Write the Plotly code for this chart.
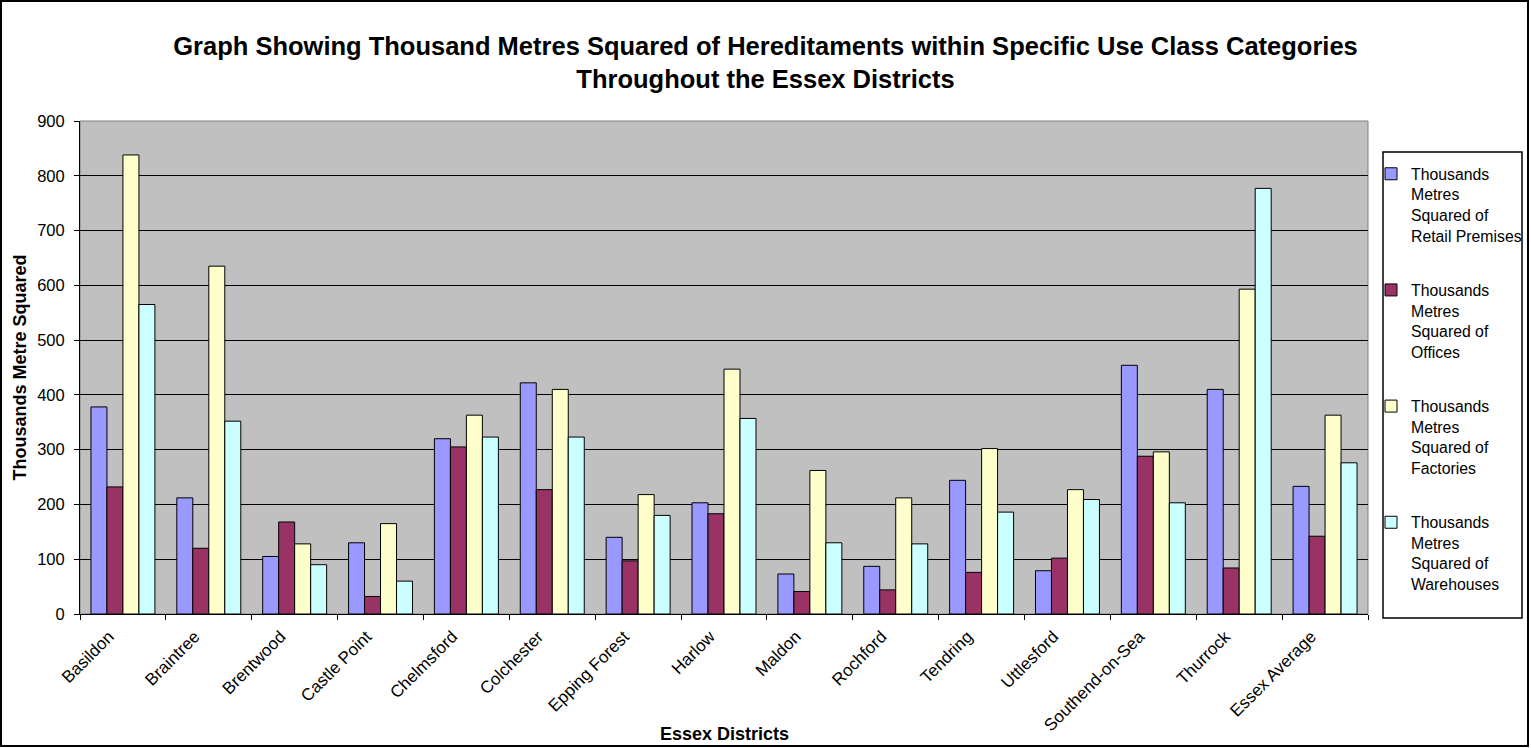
import plotly.graph_objects as go

districts = ["Basildon", "Braintree", "Brentwood", "Castle Point", "Chelmsford",
             "Colchester", "Epping Forest", "Harlow", "Maldon", "Rochford",
             "Tendring", "Uttlesford", "Southend-on-Sea", "Thurrock", "Essex Average"]

retail = [378, 212, 105, 130, 320, 422, 140, 203, 73, 87, 244, 79, 454, 410, 233]
offices = [232, 120, 168, 32, 305, 227, 97, 183, 41, 44, 76, 102, 288, 84, 142]
factories = [838, 635, 128, 165, 363, 410, 218, 447, 262, 212, 302, 227, 296, 593, 363]
warehouses = [565, 352, 90, 60, 323, 323, 180, 357, 130, 128, 186, 209, 203, 777, 276]

series_names = [
    "Thousands<br>Metres<br>Squared of<br>Retail Premises",
    "Thousands<br>Metres<br>Squared of<br>Offices",
    "Thousands<br>Metres<br>Squared of<br>Factories",
    "Thousands<br>Metres<br>Squared of<br>Warehouses",
]
series_values = [retail, offices, factories, warehouses]
series_colors = ["#9999FF", "#993366", "#FFFFCC", "#CCFFFF"]

FONT = "Liberation Sans, Arial, sans-serif"

fig = go.Figure()
for i, (name, vals, col) in enumerate(zip(series_names, series_values, series_colors)):
    fig.add_trace(go.Bar(
        x=districts, y=vals, name=name,
        marker=dict(color=col, line=dict(color="black", width=1)),
        legendgroup=f"g{i}",
    ))

# plot-area geometry in pixels
W, H = 1531, 748
L, R, T, B = 80, 1368, 121, 614
pw, ph = R - L, B - T

def px_x(x):
    return (x - L) / pw

def px_y(y):
    return (B - y) / ph

shapes = [
    # outer chart border
    dict(type="rect", xref="paper", yref="paper",
         x0=px_x(1), x1=px_x(W - 3), y0=px_y(1), y1=px_y(H - 2),
         line=dict(color="black", width=2), fillcolor="rgba(0,0,0,0)", layer="above"),
    # plot-area frame (top/right)
    dict(type="rect", xref="paper", yref="paper", x0=0, x1=1, y0=0, y1=1,
         line=dict(color="#808080", width=1), fillcolor="rgba(0,0,0,0)", layer="below"),
    # legend box
    dict(type="rect", xref="paper", yref="paper",
         x0=px_x(1383), x1=px_x(1522), y0=px_y(618), y1=px_y(152),
         line=dict(color="black", width=1.5), fillcolor="rgba(0,0,0,0)", layer="above"),
]

annotations = [
    # x-axis title, placed beneath the slanted district labels
    dict(text="<b>Essex Districts</b>", xref="paper", yref="paper",
         x=0.5, xanchor="center", y=px_y(734), yanchor="middle",
         showarrow=False, font=dict(family=FONT, size=18, color="black")),
]

fig.update_layout(
    width=W, height=H,
    margin=dict(l=L, r=W - R, t=T, b=H - B, autoexpand=False),
    paper_bgcolor="white",
    plot_bgcolor="#C0C0C0",
    font=dict(family=FONT, color="black"),
    barmode="group",
    bargap=0.255,
    bargroupgap=0,
    title=dict(
        text="Graph Showing Thousand Metres Squared of Hereditaments within Specific Use Class Categories<br>Throughout the Essex Districts",
        x=0.5, xanchor="center", y=1 - 55 / H, yanchor="top",
        font=dict(family=FONT, size=25.5, color="black", weight="bold"),
    ),
    xaxis=dict(
        type="category",
        tickangle=-45,
        tickson="boundaries",
        ticks="outside", ticklen=5, tickcolor="black",
        ticklabelshift=-14,
        ticklabelstandoff=5,
        showline=True, linecolor="black", linewidth=1,
        showgrid=False,
        tickfont=dict(family=FONT, size=17, color="black"),
    ),
    yaxis=dict(
        range=[0, 900], dtick=100,
        ticks="outside", ticklen=5, tickcolor="black",
        ticklabelstandoff=6,
        showline=True, linecolor="black", linewidth=1,
        showgrid=True, gridcolor="black", gridwidth=1,
        zeroline=False,
        tickfont=dict(family=FONT, size=16.5, color="black"),
        title=dict(text="Thousands Metre Squared", standoff=5,
                   font=dict(family=FONT, size=18, color="black", weight="bold")),
    ),
    legend=dict(
        x=px_x(1371), xanchor="left",
        y=px_y(157), yanchor="top",
        bgcolor="rgba(0,0,0,0)", borderwidth=0,
        font=dict(family=FONT, size=15.8, color="black"),
        tracegroupgap=31,
        itemwidth=30,
        valign="top",
    ),
    shapes=shapes,
    annotations=annotations,
    showlegend=True,
)

fig.write_html("out.html")
